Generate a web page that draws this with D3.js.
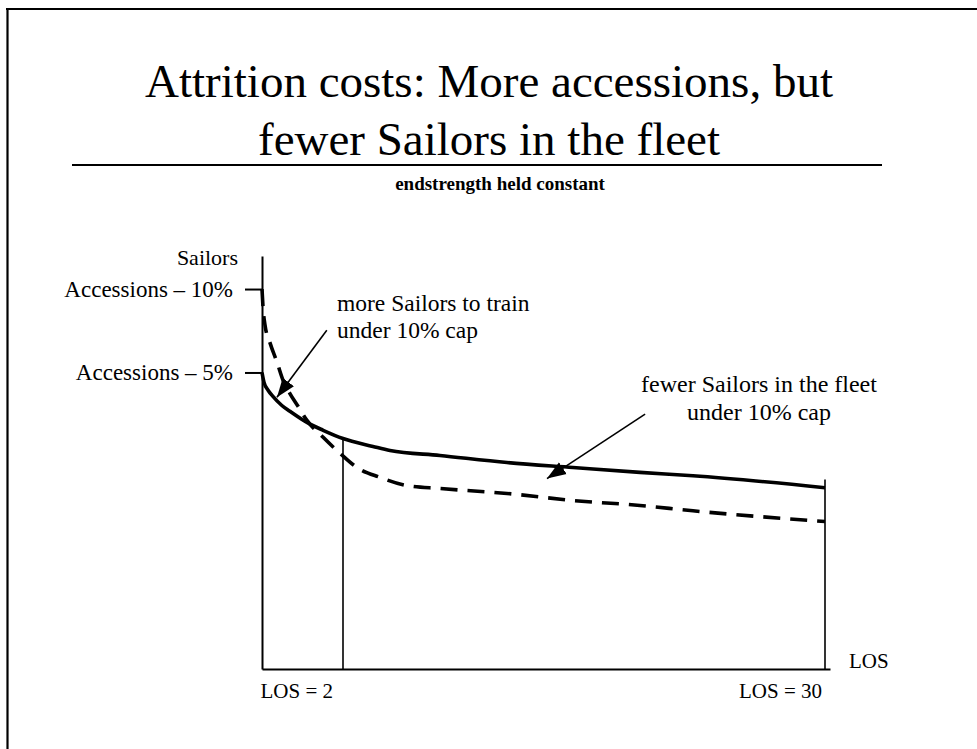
<!DOCTYPE html>
<html><head><meta charset="utf-8">
<script src="https://cdn.jsdelivr.net/npm/d3@7"></script>
<style>
body{margin:0;background:#fff}
svg{display:block}
text{font-family:'Liberation Serif','Times New Roman',serif;fill:#000}
</style>
</head><body>
<svg id="c" width="977" height="749"></svg>
<script>
// ---------- data ----------
const titleLines = ["Attrition costs: More accessions, but", "fewer Sailors in the fleet"];
const subtitle = "endstrength held constant";
const yAxisTitle = "Sailors";
const xAxisTitle = "LOS";
const yTickValues = [92.0, 71.8];
const yTickLabels = ["Accessions – 10%", "Accessions – 5%"];
const xTickValues = [2, 30];
const xTickLabels = ["LOS = 2", "LOS = 30"];

// solid: 5% cap
const los5     = [0, 0.05, 0.15, 0.27, 0.49, 0.69, 1.11, 1.51, 2, 3.74, 4.73, 7.63, 11.53, 15.36, 19.25, 22.33, 30];
const sailors5 = [71.8, 69.4, 67.5, 66.0, 63.8, 62.4, 59.7, 57.8, 55.8, 53.9, 52.9, 51.7, 50.0, 48.8, 47.6, 46.8, 43.9];
// dashed: 10% cap
const los10     = [0, 0.025, 0.074, 0.2, 0.37, 0.52, 0.69, 0.89, 1.11, 1.51, 1.93, 2.81, 4.15, 5.72, 7.63, 11.53, 15.36, 19.25, 22.33, 30];
const sailors10 = [92.0, 87.6, 83.3, 78.9, 74.3, 69.9, 66.7, 63.6, 60.2, 56.1, 52.2, 48.8, 46.4, 44.4, 43.7, 42.5, 40.8, 39.6, 38.3, 35.7];

// reference verticals: LOS value and top value
const refLos = [2, 30];
const refTop = [55.8, 45.9];

// annotations (text lines, arrow from / to in data units)
const annText = [["more Sailors to train", "under 10% cap"], ["fewer Sailors in the fleet", "under 10% cap"]];
const annFrom = [[1.6, 82.0], [19.55, 61.7]];
const annTip  = [[0.37, 65.8], [13.85, 46.1]];

// ---------- drawing ----------
const svg = d3.select("#c");
const W = 977, H = 749;
svg.append("rect").attr("width", W).attr("height", H).attr("fill", "#fff");

// frame
svg.append("line").attr("x1", 7.5).attr("x2", 7.5).attr("y1", 8).attr("y2", H).attr("stroke", "#000").attr("stroke-width", 2.2);
svg.append("line").attr("x1", 6).attr("x2", W).attr("y1", 9).attr("y2", 9).attr("stroke", "#000").attr("stroke-width", 2.2);

// title
svg.selectAll("text.title").data(titleLines).enter().append("text")
  .attr("class", "title")
  .attr("x", 489).attr("y", (d, i) => 97 + i * 58)
  .attr("text-anchor", "middle")
  .style("font-size", "47px")
  .text(d => d);
svg.append("line").attr("x1", 72).attr("x2", 882).attr("y1", 165).attr("y2", 165)
  .attr("stroke", "#000").attr("stroke-width", 2);

svg.append("text").attr("x", 500).attr("y", 190).attr("text-anchor", "middle")
  .style("font-size", "19px").style("font-weight", "bold").text(subtitle);

// scales
const x = d3.scaleLinear().domain([0, 2, 30]).range([262, 343, 825]);
const y = d3.scaleLinear().domain([0, 100]).range([669, 256]);
const xAxisEnd = 30.3;
const xAxisScale = d3.scaleLinear().domain([0, 2, 30, xAxisEnd]).range([262, 343, 825, 830]);

// y axis
const gy = svg.append("g").attr("transform", `translate(${x(0)},0)`)
  .call(d3.axisLeft(y).tickValues(yTickValues).tickFormat((d, i) => yTickLabels[i])
    .tickSize(17).tickSizeOuter(0).tickPadding(12));
gy.select(".domain").attr("stroke-width", 2);
gy.selectAll(".tick line").attr("stroke-width", 2);
gy.selectAll(".tick text").style("font-size", "23px").style("font-family", "'Liberation Serif',serif");

svg.append("text").attr("x", 238).attr("y", 265).attr("text-anchor", "end")
  .style("font-size", "22px").text(yAxisTitle);

// x axis
const gx = svg.append("g").attr("transform", `translate(0,${y(0)})`)
  .call(d3.axisBottom(xAxisScale).tickValues([]).tickSizeOuter(0));
gx.select(".domain").attr("stroke-width", 2);

svg.selectAll("text.xl").data(xTickValues).enter().append("text")
  .attr("class", "xl")
  .attr("x", (d, i) => x(d) - (i === 0 ? 10 : 3))
  .attr("y", 698)
  .attr("text-anchor", "end")
  .style("font-size", "21px")
  .text((d, i) => xTickLabels[i]);

svg.append("text").attr("x", 849).attr("y", 668).style("font-size", "21px").text(xAxisTitle);

// reference verticals
svg.selectAll("line.ref").data(refLos).enter().append("line")
  .attr("class", "ref")
  .attr("x1", d => x(d)).attr("x2", d => x(d))
  .attr("y1", (d, i) => y(refTop[i])).attr("y2", y(0))
  .attr("stroke", "#000").attr("stroke-width", 1.6);

// curves
const line = d3.line().x(d => x(d[0])).y(d => y(d[1])).curve(d3.curveMonotoneX);
svg.append("path").datum(los10.map((v, i) => [v, sailors10[i]]))
  .attr("d", line).attr("fill", "none").attr("stroke", "#000")
  .attr("stroke-width", 3.6).attr("stroke-dasharray", "17,10");
svg.append("path").datum(los5.map((v, i) => [v, sailors5[i]]))
  .attr("d", line).attr("fill", "none").attr("stroke", "#000")
  .attr("stroke-width", 3.6);

// arrow marker
svg.append("defs").append("marker").attr("id", "ah")
  .attr("viewBox", "0 -7.5 19 15").attr("refX", 19).attr("refY", 0)
  .attr("markerWidth", 19).attr("markerHeight", 15)
  .attr("markerUnits", "userSpaceOnUse").attr("orient", "auto")
  .append("path").attr("d", "M0,-7L19,0L0,7Z").attr("fill", "#000");

annFrom.forEach((f, i) => {
  svg.append("line")
    .attr("x1", x(f[0])).attr("y1", y(f[1]))
    .attr("x2", x(annTip[i][0])).attr("y2", y(annTip[i][1]))
    .attr("stroke", "#000").attr("stroke-width", 1.6)
    .attr("marker-end", "url(#ah)");
});

// annotation text
const ann1 = svg.append("text").style("font-size", "23.5px");
annText[0].forEach((t, j) => ann1.append("tspan").attr("x", 337).attr("y", 311 + j * 27).text(t));
const ann2 = svg.append("text").style("font-size", "24px").attr("text-anchor", "middle");
annText[1].forEach((t, j) => ann2.append("tspan").attr("x", 759).attr("y", 392 + j * 28).text(t));
</script>
</body></html>
